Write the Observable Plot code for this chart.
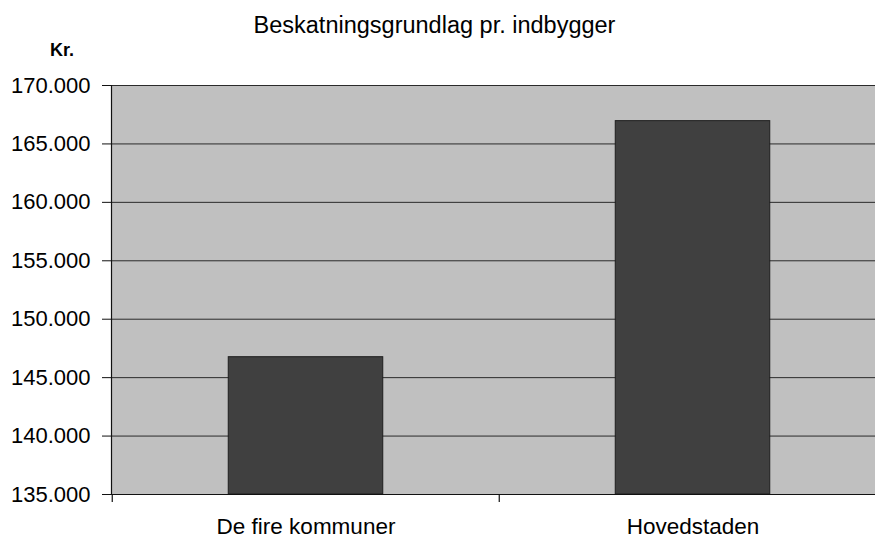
<!DOCTYPE html>
<html>
<head>
<meta charset="utf-8">
<script src="https://cdn.jsdelivr.net/npm/d3@7"></script>
<script src="https://cdn.jsdelivr.net/npm/@observablehq/plot@0.6"></script>
<style>
  html, body { margin: 0; padding: 0; background: #fff; overflow: hidden; }
  #wrap { position: relative; width: 875px; height: 540px; font-family: "Liberation Sans", Arial, sans-serif; }
  #wrap svg { overflow: hidden; }
  #title { position: absolute; left: 0; top: 14px; width: 869px; text-align: center; font-size: 23.5px; line-height: 1; color: #000; }
  #unit { position: absolute; left: 50px; top: 41px; font-size: 18px; font-weight: bold; line-height: 1; color: #000; }
</style>
</head>
<body>
<div id="wrap">
  <div id="chart"></div>
  <div id="title">Beskatningsgrundlag pr. indbygger</div>
  <div id="unit">Kr.</div>
</div>
<script>
const categories = ["De fire kommuner", "Hovedstaden"];
const values = [146750, 166950];
const yTicks = [135000, 140000, 145000, 150000, 155000, 160000, 165000, 170000];

const data = categories.map((c, i) => ({category: c, value: values[i]}));

const da = d3.formatLocale({decimal: ",", thousands: ".", grouping: [3], currency: ["", " kr."]});
const fmt = da.format(",d");

const W = 875, H = 540;
const mL = 111, mR = -11, mT = 85, mB = 46;
const step = (W - mL - mR) / categories.length;
const barInset = step * 0.3;

const chart = Plot.plot({
  width: W,
  height: H,
  marginLeft: mL,
  marginRight: mR,
  marginTop: mT,
  marginBottom: mB,
  style: {fontFamily: "'Liberation Sans', Arial, sans-serif", background: "transparent", color: "#000", overflow: "hidden"},
  x: {type: "band", domain: categories, padding: 0, label: null},
  y: {domain: [yTicks[0], yTicks[yTicks.length - 1]], label: null},
  marks: [
    Plot.frame({fill: "#c0c0c0", stroke: null}),
    Plot.gridY(yTicks, {stroke: "#2a2a2a", strokeOpacity: 1, strokeWidth: 1}),
    Plot.barY(data, {x: "category", y1: yTicks[0], y2: "value", fill: "#404040", stroke: "#1e1e1e", strokeWidth: 1, insetLeft: barInset, insetRight: barInset}),
    Plot.ruleX(categories, {x: d => d, y1: yTicks[0], y2: yTicks[0], insetBottom: -8, dx: -step / 2, stroke: "#111", strokeWidth: 1.2}),
    Plot.frame({anchor: "left", stroke: "#111", strokeWidth: 1.2}),
    Plot.frame({anchor: "bottom", stroke: "#111", strokeWidth: 1.2}),
    Plot.axisY({ticks: yTicks, tickFormat: fmt, tickSize: 9, tickPadding: 12, fontSize: 22, stroke: "#111", label: null}),
    Plot.axisX({tickSize: 0, tickPadding: 24, fontSize: 22.5, label: null})
  ]
});
document.getElementById("chart").appendChild(chart);
</script>
</body>
</html>
